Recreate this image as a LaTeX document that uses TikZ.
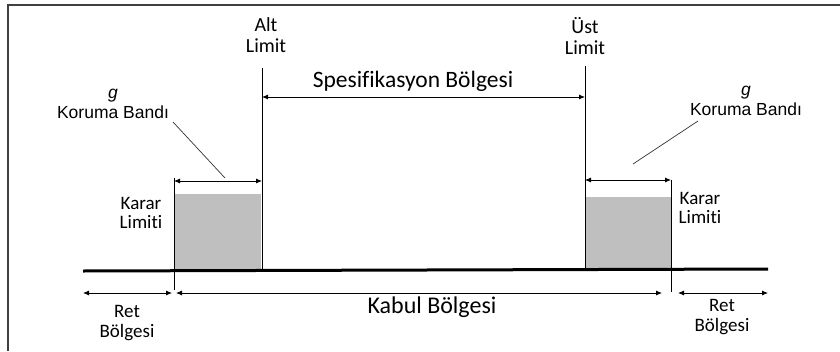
\documentclass[tikz,border=0pt]{standalone}
\usepackage{fontspec}
\setmainfont[Ligatures=NoCommon]{Carlito}
\newfontfamily\arialfont{Liberation Sans}
\usetikzlibrary{arrows.meta}

\begin{document}
\begin{tikzpicture}[x=1pt, y=-1pt,
    every node/.style={inner sep=0pt, align=center, text=black},
    dim/.style={{Latex[length=6pt,width=5pt]}-{Latex[length=6pt,width=5pt]}, line width=0.8pt},
    leader/.style={line width=0.7pt, black!80},
    limitline/.style={line width=1pt},
    band/.style={fill=black!25}]
  \useasboundingbox (0,0) rectangle (840,351);

  % frame
  \draw[line width=1.6pt, black!75] (840,5) -- (8,5) -- (8,351);

  % guard bands
  \fill[band] (174,194) rectangle (261,271);
  \fill[band] (585,197) rectangle (671,271);

  % limit lines
  \coordinate (altTop) at (262,68);
  \coordinate (altBot) at (262,271);
  \coordinate (ustTop) at (585,66);
  \coordinate (ustBot) at (585,271);
  \coordinate (kararLTop) at (174,178);
  \coordinate (kararLBot) at (174,290);
  \coordinate (kararRTop) at (671,180);
  \coordinate (kararRBot) at (671,292);
  \draw[limitline] (altTop) -- (altBot);
  \draw[limitline] (ustTop) -- (ustBot);
  \draw[limitline] (kararLTop) -- (kararLBot);
  \draw[limitline] (kararRTop) -- (kararRBot);

  % axis
  \coordinate (axisL) at (83,271);
  \coordinate (axisR) at (768,269);
  \draw[line width=3pt] (axisL) -- (axisR);

  % labels
  \node[font=\fontsize{20}{21}\selectfont] (alt) at (266,35) {Alt\\Limit};
  \node[font=\fontsize{20}{21}\selectfont] (ust) at (585,36) {Üst\\Limit};
  \node[font=\fontsize{23.5}{26}\selectfont] (spec) at (413,81) {Spesifikasyon Bölgesi};
  \node[font=\arialfont\fontsize{17.5}{20}\selectfont] (gL) at (113,104) {\textit{g}\\Koruma Bandı};
  \node[font=\arialfont\fontsize{17.5}{20}\selectfont] (gR) at (746,101) {\textit{g}\\Koruma Bandı};
  \node[font=\fontsize{19}{19}\selectfont] (kararL) at (141,213) {Karar\\Limiti};
  \node[font=\fontsize{19}{19}\selectfont] (kararR) at (700,208) {Karar\\Limiti};
  \node[font=\fontsize{19}{20}\selectfont] (retL) at (127,323) {Ret\\Bölgesi};
  \node[font=\fontsize{24}{26}\selectfont] (kabul) at (432,307) {Kabul Bölgesi};
  \node[font=\fontsize{19}{20}\selectfont] (retR) at (722,317) {Ret\\Bölgesi};

  % dimension arrows
  \draw[dim] (altTop |- 0,97) -- (ustTop |- 0,97);
  \draw[dim] (kararLTop |- 0,181) -- (altTop |- 0,181);
  \draw[dim] (ustTop |- 0,180) -- (kararRTop |- 0,180);
  \draw[dim] (axisL |- 0,293) -- (172,293);
  \draw[dim] (176,293) -- (662,293);
  \draw[dim] (678,293) -- (axisR |- 0,293);

  % leaders
  \coordinate (leadL) at (225,178);
  \coordinate (leadR) at (633,164);
  \draw[leader] (173,122) -- (leadL);
  \draw[leader] (698,121) -- (leadR);
\end{tikzpicture}
\end{document}
